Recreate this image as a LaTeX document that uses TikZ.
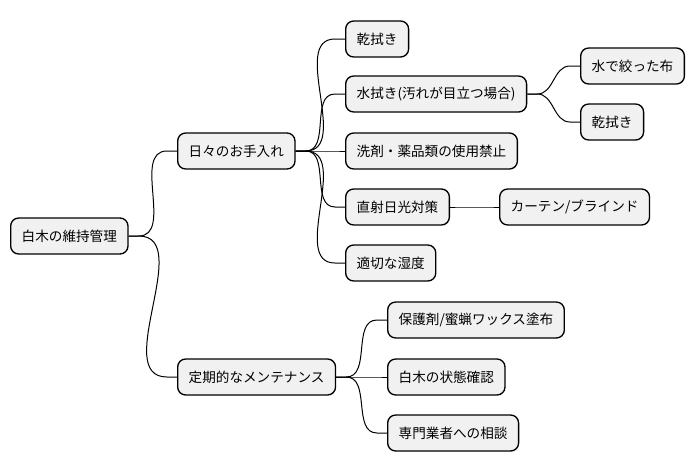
\documentclass[tikz,border=0pt]{standalone}
\usepackage{fontspec}
\newfontfamily\jpfont{Noto Sans CJK JP}
\usepackage{tikz}
\definecolor{boxfill}{HTML}{F1F1F1}

\begin{document}
\begin{tikzpicture}[x=0.75pt,y=-0.75pt]
	\tikzstyle{every path}=[line width=0.8pt]

	\tikzstyle{topic}=[draw,fill=boxfill,rounded corners=6pt,line width=1pt,
	anchor=west,minimum height=27pt,inner xsep=8.3pt,
	font=\jpfont\fontsize{10.2}{12}\selectfont]
	\tikzstyle{branch}=[line width=0.75pt]

	\useasboundingbox (0,0) rectangle (695,471);

	%% Root and first level
	\node [topic] (root) at (10,236) {白木の維持管理};
	\node [topic] (daily) at (177,151) {日々のお手入れ};
	\node [topic] (periodic) at (177,377) {定期的なメンテナンス};

	%% Daily care
	\node [topic] (dry) at (345,39) {乾拭き};
	\node [topic] (wet) at (345,94) {水拭き(汚れが目立つ場合)};
	\node [topic] (nochem) at (345,151) {洗剤・薬品類の使用禁止};
	\node [topic] (sun) at (345,207) {直射日光対策};
	\node [topic] (humid) at (345,263) {適切な湿度};

	\node [topic] (cloth) at (580,66) {水で絞った布};
	\node [topic] (drytwo) at (580,122) {乾拭き};
	\node [topic] (curtain) at (499,207) {カーテン/ブラインド};

	%% Periodic maintenance
	\node [topic] (wax) at (387,320) {保護剤/蜜蝋ワックス塗布};
	\node [topic] (check) at (387,377) {白木の状態確認};
	\node [topic] (expert) at (387,433) {専門業者への相談};

	%% Branches
	\foreach \p/\c in {root/daily,root/periodic,daily/dry,daily/wet,
		daily/nochem,daily/sun,daily/humid,wet/cloth,wet/drytwo,
		sun/curtain,periodic/wax,periodic/check,periodic/expert}
		\draw [branch] (\p.east) -- ++(10,0) to[out=0,in=180]
		([xshift=-7.5pt]\c.west) -- (\c.west);

\end{tikzpicture}
\end{document}
